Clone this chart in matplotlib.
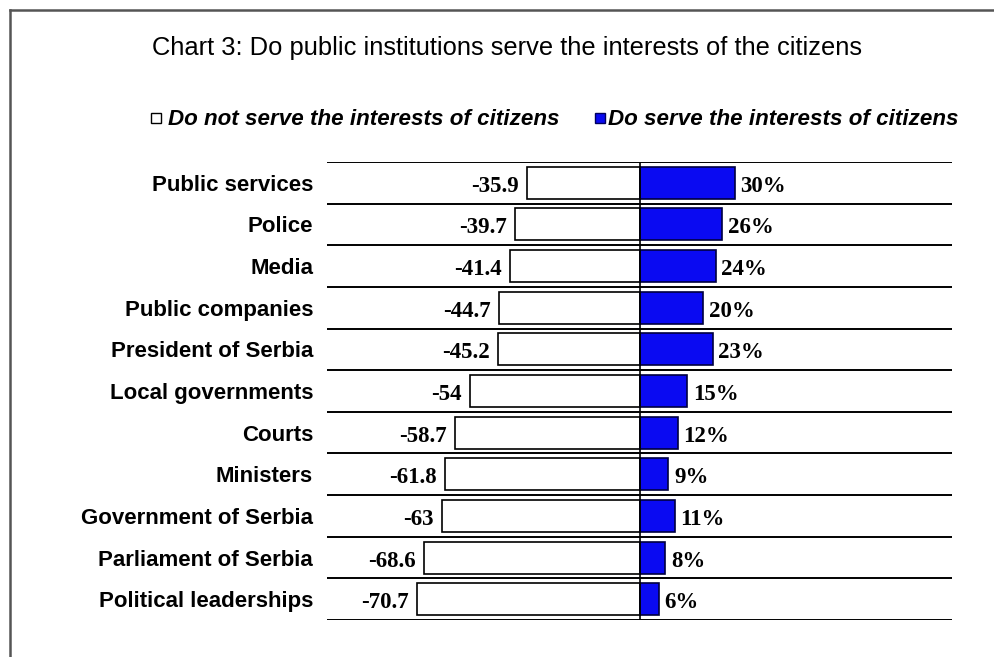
import matplotlib
matplotlib.use("Agg")
import matplotlib.pyplot as plt
from matplotlib.patches import Rectangle
from matplotlib.lines import Line2D

categories = ["Public services", "Police", "Media", "Public companies",
              "President of Serbia", "Local governments", "Courts", "Ministers",
              "Government of Serbia", "Parliament of Serbia", "Political leaderships"]
not_serve = [-35.9, -39.7, -41.4, -44.7, -45.2, -54, -58.7, -61.8, -63, -68.6, -70.7]
serve = [30, 26, 24, 20, 23, 15, 12, 9, 11, 8, 6]
not_serve_labels = ["-35.9", "-39.7", "-41.4", "-44.7", "-45.2", "-54", "-58.7",
                    "-61.8", "-63", "-68.6", "-70.7"]
serve_labels = ["30%", "26%", "24%", "20%", "23%", "15%", "12%", "9%", "11%", "8%", "6%"]
title = "Chart 3: Do public institutions serve the interests of the citizens"
legend_labels = ["Do not serve the interests of citizens", "Do serve the interests of citizens"]

W, H = 994, 657
BLUE = "#0A0AF2"
fig = plt.figure(figsize=(W / 100, H / 100), dpi=100)
fig.patch.set_facecolor("white")

def fx(px):
    return px / W

def fy(py):
    return 1 - py / H

# outer frame
fig.add_artist(Line2D([fx(9.5), fx(9.5)], [fy(9.5), fy(H + 5)], color="#555555", lw=1.8))
fig.add_artist(Line2D([fx(9.5), fx(W + 5)], [fy(9.5), fy(9.5)], color="#555555", lw=1.8))

ax_l, ax_r, ax_t, ax_b = 327, 952, 162, 620
ax = fig.add_axes([fx(ax_l), fy(ax_b), fx(ax_r - ax_l), (ax_b - ax_t) / H])
n = len(categories)
y = list(range(n))
ax.set_xlim(-99.4, 99.0)
ax.set_ylim(n - 0.5, -0.5)

ax.barh(y, not_serve, height=0.77, color="white", edgecolor="black", linewidth=1.2, zorder=2)
ax.barh(y, serve, height=0.77, color=BLUE, edgecolor="#000040", linewidth=1.2, zorder=2)
for b in [i - 0.5 for i in range(n + 1)]:
    ax.axhline(b, color="black", lw=1.4, zorder=1)
ax.axvline(0, color="black", lw=1.2, zorder=3)

for i in range(n):
    ax.annotate(not_serve_labels[i], (not_serve[i], y[i]), xytext=(-6, -2.5),
                textcoords="offset points", ha="right", va="center",
                fontfamily="Liberation Serif", fontweight="bold", fontsize=16.5)
    ax.annotate(serve_labels[i], (serve[i], y[i]), xytext=(4, -2.5),
                textcoords="offset points", ha="left", va="center",
                fontfamily="Liberation Serif", fontweight="bold", fontsize=16.5)

ax.set_yticks(y)
ax.set_yticklabels(categories, fontfamily="Liberation Sans", fontweight="bold", fontsize=16)
ax.tick_params(axis="y", length=0, pad=10)
ax.set_xticks([])
for s in ax.spines.values():
    s.set_visible(False)

# title
fig.text(fx(152), fy(48.5), title, ha="left", va="center",
         fontfamily="Liberation Sans", fontsize=18.4)

# legend
fig.add_artist(Rectangle((fx(151), fy(122.5)), fx(10), 10 / H, facecolor="white",
                         edgecolor="black", lw=1.0))
fig.text(fx(168), fy(119.5), legend_labels[0], ha="left", va="center",
         fontfamily="Liberation Sans", fontweight="bold", fontstyle="italic", fontsize=16.1)
fig.add_artist(Rectangle((fx(595), fy(122.5)), fx(10), 10 / H, facecolor=BLUE,
                         edgecolor="#000060", lw=1.0))
fig.text(fx(608), fy(119.5), legend_labels[1], ha="left", va="center",
         fontfamily="Liberation Sans", fontweight="bold", fontstyle="italic", fontsize=16.1)

fig.savefig("out.png", dpi=100)
